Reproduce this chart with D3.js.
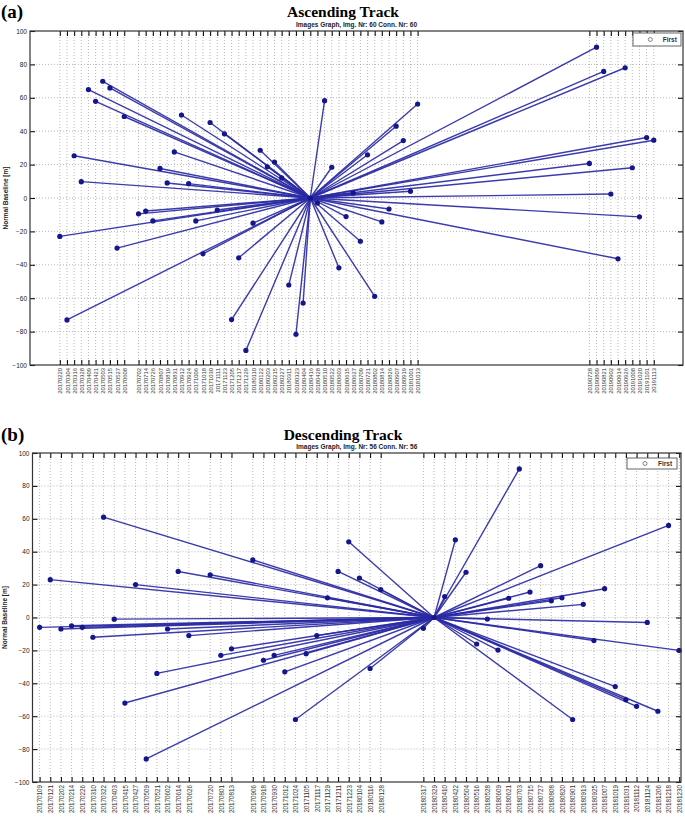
<!DOCTYPE html>
<html><head><meta charset="utf-8">
<script src="https://cdn.jsdelivr.net/npm/d3@7"></script>
<style>
html,body{margin:0;padding:0;background:#fff;}
svg{display:block;}
</style></head>
<body>
<svg id="c" width="685" height="822"></svg>
<script>
// ---------- DATA ----------
const ascDates = ["20170220","20170304","20170316","20170328","20170409","20170421","20170503","20170515","20170527","20170608",
"20170702","20170714","20170726","20170807","20170819","20170831","20170912","20170924","20171006","20171018",
"20171030","20171111","20171123","20171205","20171217","20171229","20180110","20180122","20180203","20180215",
"20180227","20180311","20180323","20180404","20180416","20180428","20180510","20180522","20180603","20180615",
"20180627","20180709","20180721","20180802","20180814","20180826","20180907","20180919","20181001","20181013",
"20190728","20190809","20190821","20190902","20190914","20190926","20191008","20191020","20191101","20191113"];
const ascBaseline = [-23,-73,25.3,9.8,64.9,57.9,69.9,65.9,-30,48.8,
-9.5,-7.8,-13.7,17.7,9.0,27.6,49.7,8.6,-13.7,-33.4,
45.2,-7.2,38.4,-72.8,-35.8,-91.3,-15.1,28.6,18.7,21.5,
12,-52.1,-81.6,-62.9,0,-3,58.3,18.4,-41.8,-11.1,
3,-25.9,25.9,-58.9,-14.3,-6.6,43,34.4,4,56.3,
20.7,90.3,75.8,2.4,-36.4,78,18.1,-11.3,36.2,34.6];
const ascMaster = "20180416";

const descDates = ["20170109","20170121","20170202","20170214","20170226","20170310","20170322","20170403","20170415","20170427",
"20170509","20170521","20170602","20170614","20170626",
"20170720","20170801","20170813",
"20170906","20170918","20170930","20171012","20171024","20171105","20171117","20171129","20171211","20171223","20180104","20180116","20180128",
"20180317","20180329","20180410","20180422","20180504","20180516","20180528","20180609","20180621","20180703",
"20180715","20180727","20180808","20180820","20180901","20180913","20180925","20181007","20181019","20181031",
"20181112","20181124","20181206","20181218","20181230"];
const descBaseline = [-6,23,-7,-5,-6,-12,61,-1,-52,20,
-86,-34,-7,28,-11,
26,-23,-19,
35,-26,-23,-33,-62,-22,-11,12,28,46,24,-31,17,
-6.6,0,12.7,47.2,27.5,-16.1,-0.9,-19.8,11.7,90.3,
15.5,31.5,10.2,12,-62,8,-14,17.5,-42,-50,
-54,-3,-57,56,-20];
const descMaster = "20180329";

const yTicks = [100,80,60,40,20,0,-20,-40,-60,-80,-100];

// ---------- DRAW ----------
const parse = d3.utcParse("%Y%m%d");
const fmt = d3.utcFormat("%Y%m%d");
const svg = d3.select("#c");

function drawChart(cfg){
  const g = svg.append("g");
  const {left,right,top,bottom} = cfg.frame;
  const x = d3.scaleUtc().domain(cfg.domain.map(parse)).range([left,right]);
  const y = d3.scaleLinear().domain([-100,100]).range([bottom,top]);
  const dates = cfg.dates.map(parse);
  const data = cfg.dates.map((d,i)=>({date:parse(d), v:cfg.values[i], key:d}));
  const m = data.find(d=>d.key===cfg.master);

  g.append("text").attr("x",1).attr("y",cfg.titleY+1).text(cfg.letter)
    .attr("font-family","Liberation Serif").attr("font-weight","bold").attr("font-size",19).attr("fill","#000");
  g.append("text").attr("x",343).attr("y",cfg.titleY).attr("text-anchor","middle").text(cfg.title)
    .attr("font-family","Liberation Serif").attr("font-weight","bold").attr("font-size",15.5).attr("fill","#000");
  g.append("text").attr("x",(left+right)/2).attr("y",top-4).attr("text-anchor","middle").text(cfg.subtitle)
    .attr("font-family","Liberation Sans").attr("font-weight","bold").attr("font-size",6.5).attr("fill","#222");

  g.append("rect").attr("x",left).attr("y",top).attr("width",right-left).attr("height",bottom-top).attr("fill","#fff");

  g.append("g").selectAll("line").data(dates).join("line")
    .attr("x1",d=>x(d)).attr("x2",d=>x(d)).attr("y1",top).attr("y2",bottom)
    .attr("stroke","#9a9a9a").attr("stroke-width",0.7).attr("stroke-dasharray","1,2");
  g.append("g").selectAll("line").data(yTicks.slice(1,-1)).join("line")
    .attr("x1",left).attr("x2",right).attr("y1",d=>y(d)).attr("y2",d=>y(d))
    .attr("stroke","#9a9a9a").attr("stroke-width",0.7).attr("stroke-dasharray","1,2");

  const ax = g.append("g").attr("transform",`translate(0,${bottom})`)
    .call(d3.axisBottom(x).tickValues(dates).tickFormat(fmt).tickSize(-5).tickPadding(0));
  ax.select(".domain").remove();
  ax.selectAll(".tick line").attr("stroke","#111").attr("stroke-width",1.1);
  ax.selectAll(".tick text")
    .attr("font-family","Liberation Sans").attr("font-size",cfg.xFont).attr("fill","#333")
    .attr("text-anchor","end").attr("dy",null).attr("y",null)
    .attr("transform",`translate(${cfg.xFont*0.36},3) rotate(-90)`);
  const axT = g.append("g").attr("transform",`translate(0,${top})`)
    .call(d3.axisTop(x).tickValues(dates).tickFormat("").tickSize(-5));
  axT.select(".domain").remove();
  axT.selectAll(".tick line").attr("stroke","#111").attr("stroke-width",1.1);

  const ay = g.append("g").attr("transform",`translate(${left},0)`)
    .call(d3.axisLeft(y).tickValues(yTicks).tickSize(-5).tickPadding(3));
  ay.select(".domain").remove();
  ay.selectAll(".tick line").attr("stroke","#111").attr("stroke-width",1.1);
  ay.selectAll(".tick text").attr("font-family","Liberation Sans").attr("font-size",6.5).attr("fill","#222");
  const ayR = g.append("g").attr("transform",`translate(${right},0)`)
    .call(d3.axisRight(y).tickValues(yTicks).tickFormat("").tickSize(-5));
  ayR.select(".domain").remove();
  ayR.selectAll(".tick line").attr("stroke","#111").attr("stroke-width",1.1);

  g.append("text").attr("transform",`translate(${cfg.yTitleX},${(top+bottom)/2}) rotate(-90)`)
    .attr("text-anchor","middle").text("Normal Baseline [m]")
    .attr("font-family","Liberation Sans").attr("font-weight","bold").attr("font-size",6.5).attr("fill","#222");

  g.append("g").selectAll("line").data(data.filter(d=>d!==m)).join("line")
    .attr("x1",x(m.date)).attr("y1",y(m.v)).attr("x2",d=>x(d.date)).attr("y2",d=>y(d.v))
    .attr("stroke","#2a2aa4").attr("stroke-width",1.4).attr("stroke-opacity",0.92);
  g.append("g").selectAll("circle").data(data.filter(d=>d!==m)).join("circle")
    .attr("cx",d=>x(d.date)).attr("cy",d=>y(d.v)).attr("r",2.6).attr("fill","#15158c");
  g.append("circle").attr("cx",x(m.date)).attr("cy",y(m.v)).attr("r",2.6)
    .attr("fill","#15158c");

  g.append("rect").attr("x",left).attr("y",top).attr("width",right-left).attr("height",bottom-top)
    .attr("fill","none").attr("stroke","#333").attr("stroke-width",1.2);

  const L = cfg.legend;
  const lg = g.append("g");
  lg.append("rect").attr("x",L.x).attr("y",L.y).attr("width",L.w).attr("height",L.h)
    .attr("fill","#fff").attr("stroke","#555").attr("stroke-width",0.9);
  lg.append("circle").attr("cx",L.x+L.w*0.36).attr("cy",L.y+L.h/2).attr("r",2)
    .attr("fill","none").attr("stroke","#666").attr("stroke-width",0.8);
  lg.append("text").attr("x",L.x+L.w*0.62).attr("y",L.y+L.h/2+2.3).text("First")
    .attr("font-family","Liberation Sans").attr("font-weight","bold").attr("font-size",6.5).attr("fill","#333");
}

drawChart({
  letter:"(a)", title:"Ascending Track", subtitle:"Images Graph, Img. Nr: 60 Conn. Nr: 60",
  titleY:17, dates:ascDates, values:ascBaseline, master:ascMaster,
  domain:["20170101","20200101"], frame:{left:30,right:683,top:31,bottom:365},
  xFont:5.8, yTitleX:8, legend:{x:633,y:33,w:48,h:13}
});
drawChart({
  letter:"(b)", title:"Descending Track", subtitle:"Images Graph, Img. Nr: 56 Conn. Nr: 56",
  titleY:440, dates:descDates, values:descBaseline, master:descMaster,
  domain:["20170101","20190101"], frame:{left:32.5,right:681,top:453,bottom:782},
  xFont:6.3, yTitleX:7, legend:{x:627,y:458,w:50,h:11}
});
</script>
</body></html>
